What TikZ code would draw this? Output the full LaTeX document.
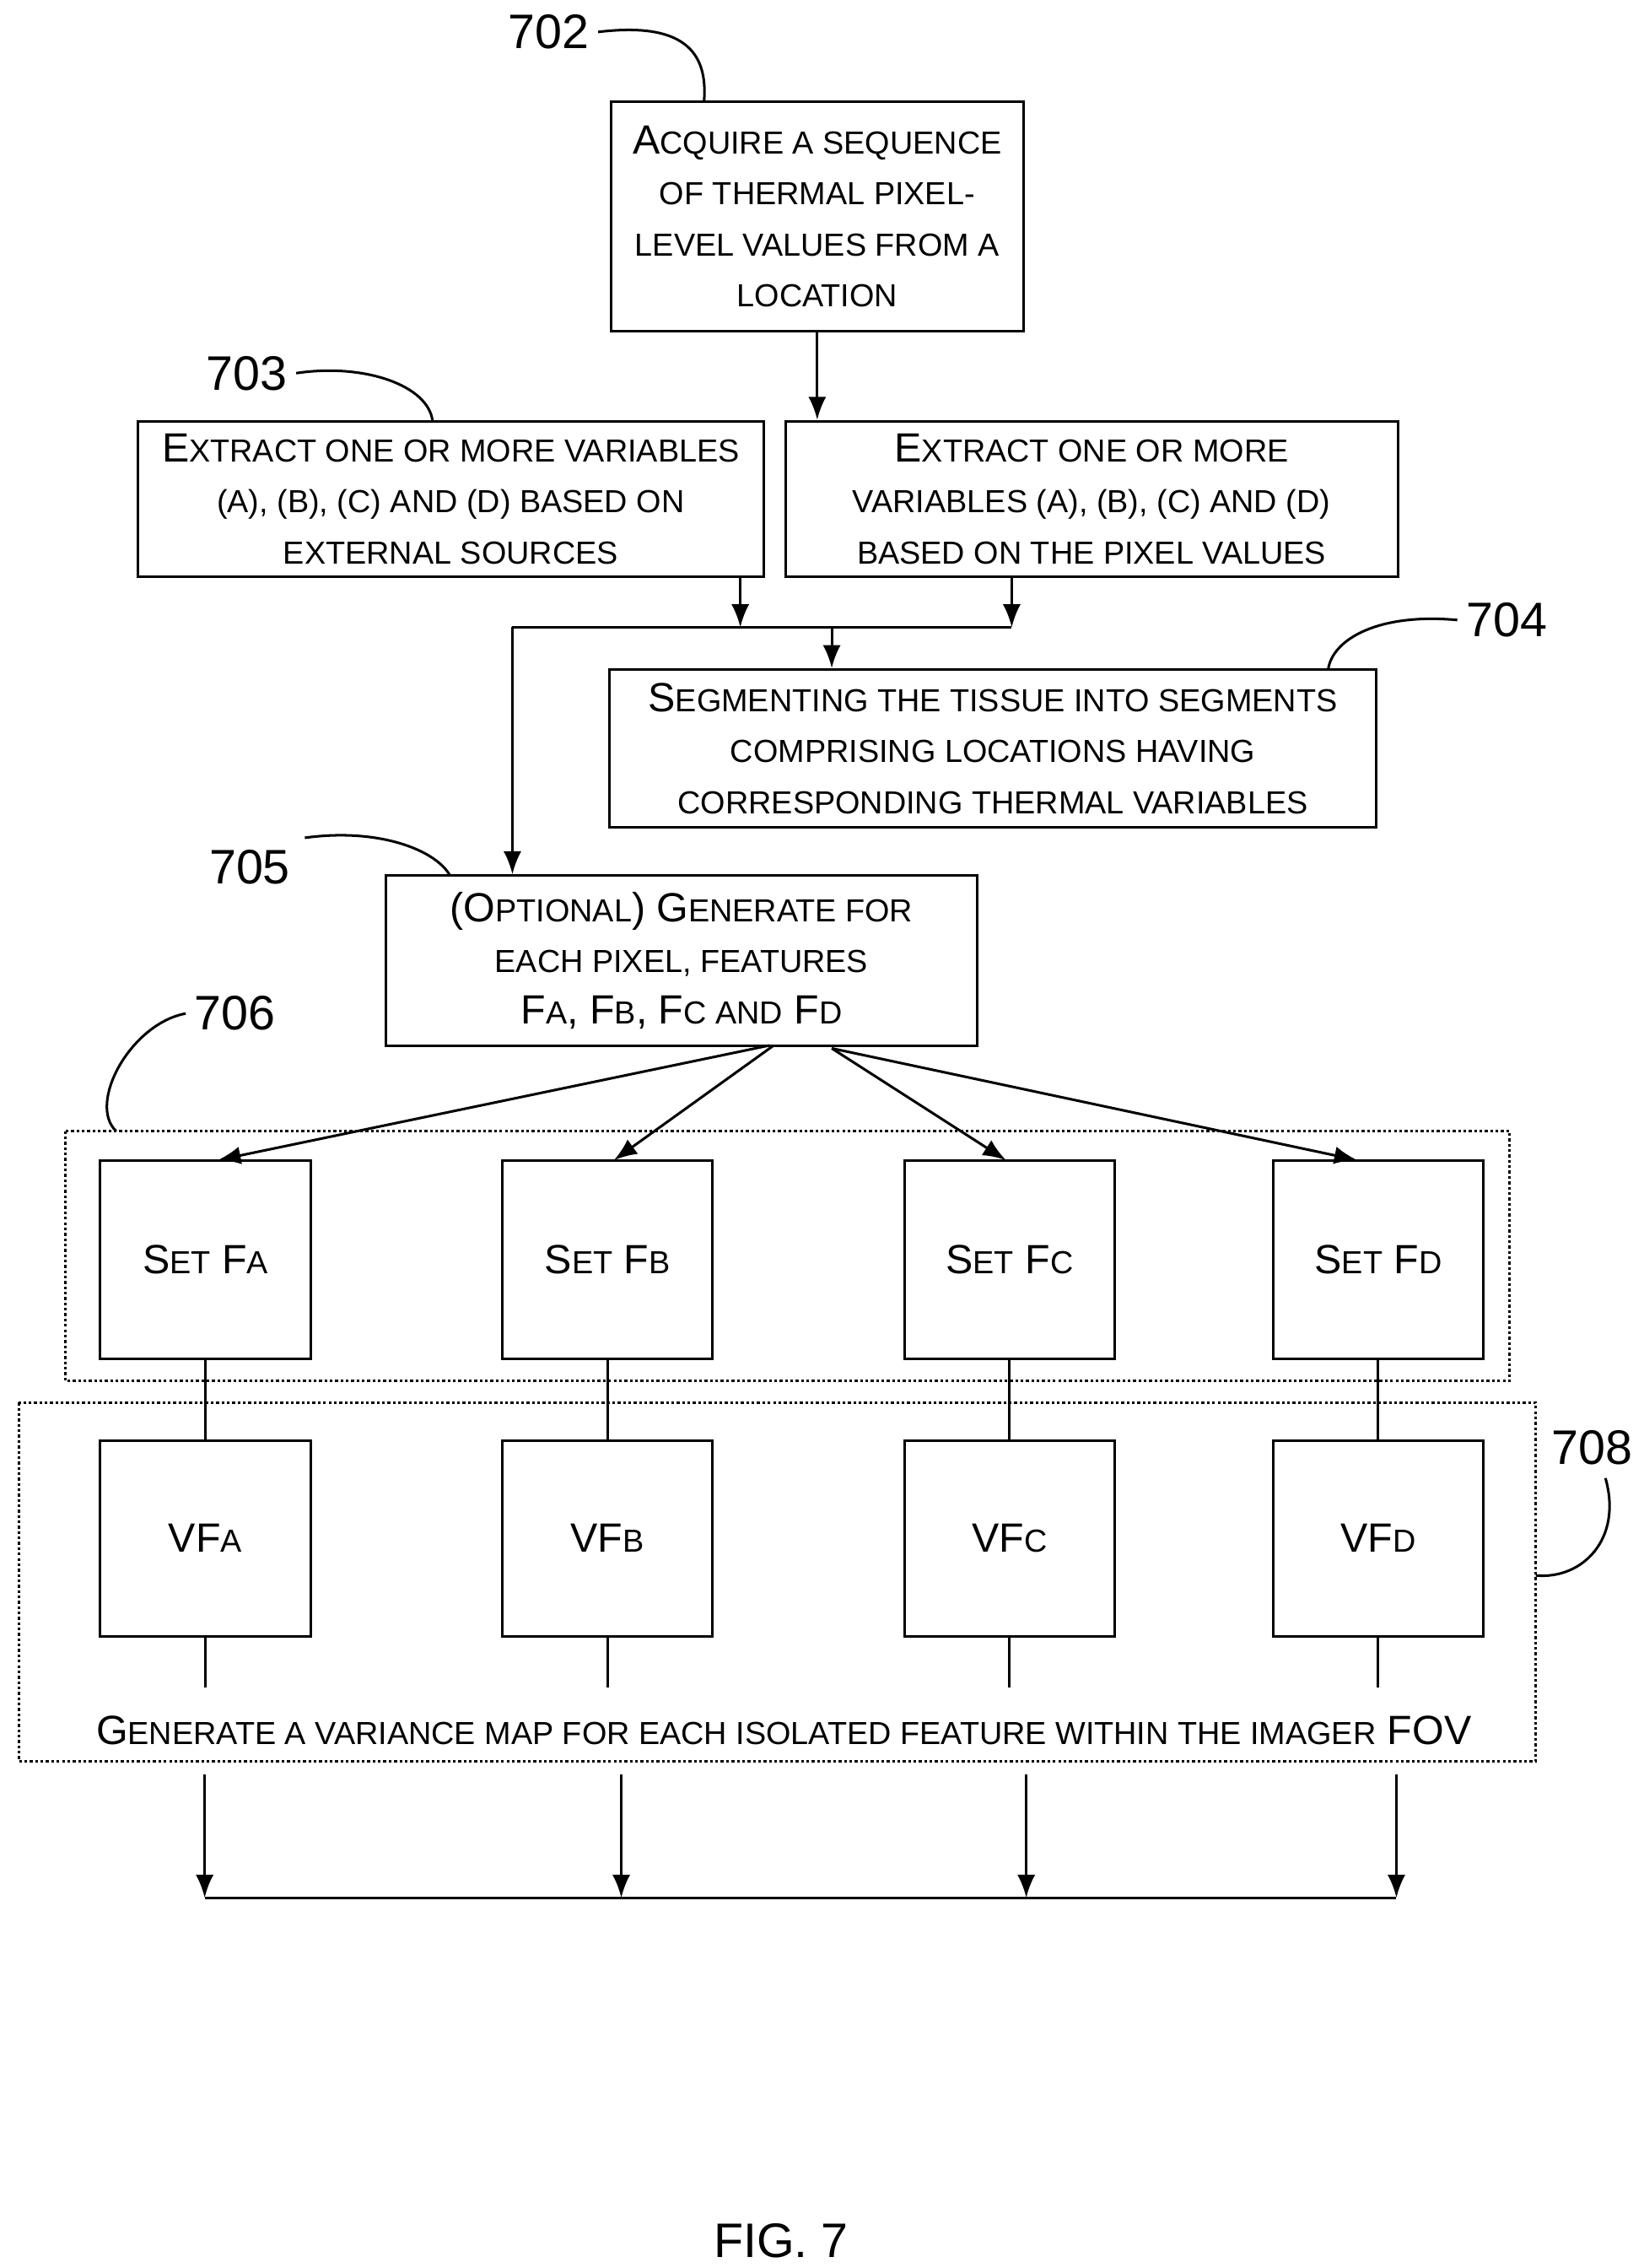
\documentclass[tikz,border=0pt]{standalone}
\usepackage{fontspec}
\setmainfont{Liberation Sans}
\usetikzlibrary{arrows.meta}
\newcommand{\sm}[1]{{\fontsize{12.5}{20}\selectfont #1}}
\begin{document}
\begin{tikzpicture}[x=0.02cm,y=-0.02cm,
    box/.style={draw,line width=1pt,inner sep=0pt,align=center,
        font=\fontsize{16}{20}\selectfont},
    ref/.style={font=\fontsize{19}{22}\selectfont},
    lead/.style={line width=1pt},
    frame/.style={draw,densely dotted,line width=1.1pt},
    arr/.style={-{Latex[length=9pt,width=7pt]},line width=1pt},
    ln/.style={line width=1pt}]

    \useasboundingbox (0,0) rectangle (1132,1562);

    % the boxes
    \node[box,minimum width=5.68cm,minimum height=3.16cm] (acq) at (563,149)
      {A\sm{CQUIRE A SEQUENCE}\\\sm{OF THERMAL PIXEL-}\\\sm{LEVEL VALUES FROM A}\\\sm{LOCATION}};
    \node[box,minimum width=8.62cm,minimum height=2.14cm] (ext) at (310.5,343.5)
      {E\sm{XTRACT ONE OR MORE VARIABLES}\\\sm{(A), (B), (C) AND (D) BASED ON}\\\sm{EXTERNAL SOURCES}};
    \node[box,minimum width=8.44cm,minimum height=2.14cm] (pix) at (752,343.5)
      {E\sm{XTRACT ONE OR MORE}\\\sm{VARIABLES (A), (B), (C) AND (D)}\\\sm{BASED ON THE PIXEL VALUES}};
    \node[box,minimum width=10.56cm,minimum height=2.18cm] (seg) at (684,515.5)
      {S\sm{EGMENTING THE TISSUE INTO SEGMENTS}\\\sm{COMPRISING LOCATIONS HAVING}\\\sm{CORRESPONDING THERMAL VARIABLES}};
    \node[box,minimum width=8.14cm,minimum height=2.34cm] (gen) at (469.5,661.5)
      {(O\sm{PTIONAL}) G\sm{ENERATE FOR}\\\sm{EACH PIXEL, FEATURES}\\F\sm{A}, F\sm{B}, F\sm{C AND} F\sm{D}};

    \foreach \n/\x/\l in {a/141.5/A,b/418.5/B,c/695.5/C,d/949.5/D}{
      \node[box,minimum width=2.9cm,minimum height=2.74cm] (set\n) at (\x,867.5) {S\sm{ET} F\sm{\l}};
      \node[box,minimum width=2.9cm,minimum height=2.7cm] (vf\n) at (\x,1059.5) {VF\sm{\l}};
      \draw[ln] (set\n) -- (vf\n);
      \coordinate (t\n) at (\x,1162);
      \draw[ln] (vf\n) -- (t\n);
    }

    \draw[frame] (45,779) rectangle (1040,951);
    \draw[frame] (13,966) rectangle (1058,1213);
    \node[font=\fontsize{16}{20}\selectfont] (var) at (540,1192)
      {G\sm{ENERATE A VARIANCE MAP FOR EACH ISOLATED FEATURE WITHIN THE IMAGER} FOV};

    % reference numerals
    \node[ref] (n702) at (378,22) {702};
    \node[ref] (n703) at (170,257) {703};
    \node[ref] (n704) at (1038,427) {704};
    \node[ref] (n705) at (172,597) {705};
    \node[ref] (n706) at (162,698) {706};
    \node[ref] (n708) at (1097,997) {708};
    \draw[lead] (n702.east) .. controls (470,15) and (488,35) .. (485,70);
    \draw[lead] (n703.east) .. controls (250,250) and (295,265) .. (298,290);
    \draw[lead] (n704.west) .. controls (950,422) and (918,440) .. (915,461);
    \draw[lead] (210,577) .. controls (260,570) and (300,585) .. (310,603);
    \draw[lead] (n706.west) .. controls (90,705) and (60,760) .. (80,779);
    \draw[lead] (1106,1018) .. controls (1118,1060) and (1090,1088) .. (1058,1085);

    % connectors
    \draw[arr] (acq) -- (acq.south|-pix.north);
    \coordinate (ja) at (510,432);
    \coordinate (jb) at (697,432);
    \coordinate (jl) at (353,432);
    \coordinate (jm) at (573,432);
    \draw[arr] (ext.south-|ja) -- (ja);
    \draw[arr] (pix.south-|jb) -- (jb);
    \draw[ln] (jl) -- (jb);
    \draw[arr] (jm) -- (seg.north-|jm);
    \draw[arr] (jl) -- (gen.north-|jl);
    \draw[arr] (530,720) -- (150,799);
    \draw[arr] (533,720) -- (423,799);
    \draw[arr] (573,722) -- (693,799);
    \draw[arr] (573,722) -- (935,799);

    \foreach \n/\x in {a/141,b/428,c/707,d/962}{
      \coordinate (u\n) at (\x,1222);
      \coordinate (w\n) at (\x,1307);
      \draw[arr] (u\n) -- (w\n);
    }
    \draw[ln] (wa) -- (wd);

    \node[font=\fontsize{19}{22}\selectfont] (fig) at (538,1543) {FIG. 7};
\end{tikzpicture}
\end{document}
